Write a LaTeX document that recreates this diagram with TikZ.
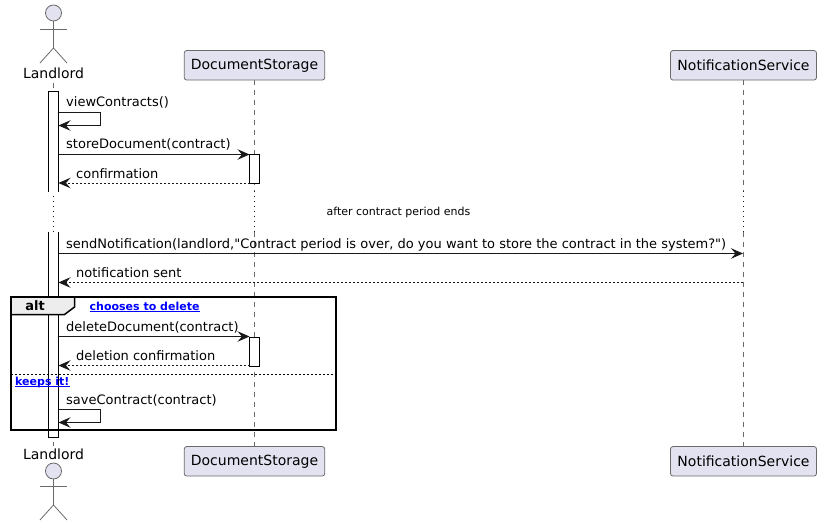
\documentclass[tikz,border=0pt]{standalone}
\usepackage{fontspec}
\setmainfont{DejaVu Sans}
\newfontfamily\msgfont{DejaVu Sans}
\usetikzlibrary{arrows.meta,calc}
\definecolor{inkc}{HTML}{181818}
\definecolor{softc}{HTML}{6A6A6A}
\definecolor{partc}{HTML}{E2E2F0}
\tikzset{
  part/.style={draw=softc,line width=0.8pt,fill=partc,rounded corners=2.5pt,minimum height=29.5pt,inner sep=0pt,font=\fontsize{14}{16}\selectfont,text=black},
  actorname/.style={inner sep=0pt,font=\fontsize{14}{16}\selectfont,text=black},
  lifeline/.style={draw=softc,line width=0.7pt,dash pattern=on 5pt off 5pt},
  lifedots/.style={draw=inkc,line width=0.8pt,dash pattern=on 1pt off 4pt},
  actorhead/.style={circle,draw=softc,line width=0.8pt,fill=partc,minimum size=16pt,inner sep=0pt},
  actorline/.style={draw=softc,line width=0.8pt},
  actfill/.style={fill=white,minimum width=10pt,inner sep=0pt,anchor=north},
  actbar/.style={draw=black,line width=0.9pt},
  msg/.style={draw=inkc,line width=0.9pt,-{Stealth[length=12pt,width=10.5pt,inset=4.5pt]}},
  reply/.style={msg,line width=0.8pt,dash pattern=on 2pt off 2pt},
  msglabel/.style={anchor=base west,inner sep=0pt,font=\fontsize{13}{15}\selectfont\msgfont,text=black},
  guard/.style={inner sep=0pt,anchor=base west,font=\fontsize{11}{13}\selectfont\bfseries,text=blue},
}
\newcommand{\underblue}[1]{\draw[blue,line width=0.9pt] ($(#1.base west)+(0,-1.8pt)$) -- ($(#1.base east)+(0,-1.8pt)$);}
\begin{document}
\begin{tikzpicture}[x=1pt,y=-1pt]
      \useasboundingbox (0,0) rectangle (821,526);
      % participants
      \node[part,minimum width=140.5pt] (storetop) at (254.5,65.3) {DocumentStorage};
      \node[part,minimum width=146pt] (notifytop) at (743.5,65.3) {NotificationService};
      \node[part,minimum width=140.5pt] (storebot) at (254.5,461.3) {DocumentStorage};
      \node[part,minimum width=146pt] (notifybot) at (743.5,461.3) {NotificationService};
      \node[actorname] (landtop) at (53.5,73) {Landlord};
      \node[actorname] (landbot) at (53.5,454) {Landlord};
      % actors
      \node[actorhead] (headtop) at (53.5,13) {};
      \coordinate (hiptop) at (53.5,48);
      \coordinate (armltop) at (40,29);
      \coordinate (armrtop) at (67,29);
      \coordinate (footltop) at (40,63);
      \coordinate (footrtop) at (67,63);
      \draw[actorline] (headtop) -- (hiptop);
      \draw[actorline] (armltop) -- (armrtop);
      \draw[actorline] (footltop) -- (hiptop) -- (footrtop);
      \node[actorhead] (headbot) at (53.5,471) {};
      \coordinate (hipbot) at (53.5,505);
      \coordinate (armlbot) at (40,486);
      \coordinate (armrbot) at (67,486);
      \coordinate (footlbot) at (40,520);
      \coordinate (footrbot) at (67,520);
      \draw[actorline] (headbot) -- (hipbot);
      \draw[actorline] (armlbot) -- (armrbot);
      \draw[actorline] (footlbot) -- (hipbot) -- (footrbot);
      % lifelines
      \coordinate (landa) at (53.5,83);
      \coordinate (landb) at (53.5,191);
      \coordinate (landc) at (53.5,232);
      \coordinate (landd) at (53.5,446);
      \coordinate (storea) at (254.5,191);
      \coordinate (storeb) at (254.5,232);
      \coordinate (notifya) at (743.5,191);
      \coordinate (notifyb) at (743.5,232);
      \draw[lifeline] (landa) -- (landb);
      \draw[lifeline] (landc) -- (landd);
      \draw[lifeline] (storetop) -- (storea);
      \draw[lifeline] (storeb) -- (storebot);
      \draw[lifeline] (notifytop) -- (notifya);
      \draw[lifeline] (notifyb) -- (notifybot);
      \draw[lifedots] (landb) -- (landc);
      \draw[lifedots] (storea) -- (storeb);
      \draw[lifedots] (notifya) -- (notifyb);
      % activations
      \node[actfill,minimum height=100pt] (barone) at (53.5,91.5) {};
      \node[actfill,minimum height=205pt] (bartwo) at (53.5,232) {};
      \node[actfill,draw=black,line width=0.9pt,minimum height=28.5pt] (storeone) at (254.5,154.5) {};
      \node[actfill,draw=black,line width=0.9pt,minimum height=29pt] (storetwo) at (254.5,336.5) {};
      \draw[actbar] (barone.south west) -- (barone.north west) -- (barone.north east) -- (barone.south east);
      \draw[actbar] (bartwo.north west) -- (bartwo.south west) -- (bartwo.south east) -- (bartwo.north east);
      % ends of the messages
      \coordinate (viewa) at (58.5,112.5);
      \coordinate (viewb) at (100.5,112.5);
      \coordinate (viewc) at (100.5,125.5);
      \coordinate (viewd) at (58.5,125.5);
      \coordinate (storemsga) at (58.5,154.5);
      \coordinate (storemsgb) at (249.5,154.5);
      \coordinate (confa) at (249.5,183);
      \coordinate (confb) at (58.5,183);
      \coordinate (senda) at (58.5,253.5);
      \coordinate (sendb) at (743,253.5);
      \coordinate (senta) at (743,282.5);
      \coordinate (sentb) at (58.5,282.5);
      \coordinate (dela) at (58.5,336.5);
      \coordinate (delb) at (249.5,336.5);
      \coordinate (delca) at (249.5,365.5);
      \coordinate (delcb) at (58.5,365.5);
      \coordinate (savea) at (58.5,409.5);
      \coordinate (saveb) at (100.5,409.5);
      \coordinate (savec) at (100.5,422.5);
      \coordinate (saved) at (58.5,422.5);
      \draw[msg] (viewa) -- (viewb) -- (viewc) -- (viewd);
      \draw[msg] (storemsga) -- (storemsgb);
      \draw[reply] (confa) -- (confb);
      \draw[msg] (senda) -- (sendb);
      \draw[reply] (senta) -- (sentb);
      \draw[msg] (dela) -- (delb);
      \draw[reply] (delca) -- (delcb);
      \draw[msg] (savea) -- (saveb) -- (savec) -- (saved);
      % message labels
      \node[msglabel] (viewlabel) at (66,107) {viewContracts()};
      \node[msglabel] (storelabel) at (66,149) {storeDocument(contract)};
      \node[msglabel] (conflabel) at (76,179) {confirmation};
      \node[msglabel] (sendlabel) at (66,249) {sendNotification(landlord,"Contract period is over, do you want to store the contract in the system?")};
      \node[msglabel] (sentlabel) at (76,278) {notification sent};
      \node[msglabel] (dellabel) at (66,331) {deleteDocument(contract)};
      \node[msglabel] (delclabel) at (76,360.5) {deletion confirmation};
      \node[msglabel] (savelabel) at (66,404) {saveContract(contract)};
      \node[inner sep=0pt,font=\fontsize{11}{13}\selectfont,text=black] (delay) at (398.5,212) {after contract period ends};
      % alt frame
      \coordinate (framea) at (10.5,297);
      \coordinate (frameb) at (335.5,430);
      \coordinate (elsea) at (10.5,374.5);
      \coordinate (elseb) at (335.5,374.5);
      \coordinate (taba) at (74.5,297);
      \coordinate (tabb) at (74.5,307);
      \coordinate (tabc) at (64.5,314.5);
      \coordinate (tabd) at (10.5,314.5);
      \fill[black!7] (framea) -- (taba) -- (tabb) -- (tabc) -- (tabd) -- cycle;
      \draw[black,line width=1.5pt] (taba) -- (tabb) -- (tabc) -- (tabd);
      \draw[black,line width=2pt] (framea) rectangle (frameb);
      \draw[black,line width=0.9pt,dash pattern=on 2pt off 2pt] (elsea) -- (elseb);
      \node[inner sep=0pt,font=\fontsize{13}{15}\selectfont\bfseries,text=black] (altlabel) at (35,306) {alt};
      \node[guard] (choose) at (89.5,310) {chooses to delete};
      \node[guard] (keeps) at (15,385) {keeps it!};
      \underblue{choose}
      \underblue{keeps}
    \end{tikzpicture}
\end{document}
